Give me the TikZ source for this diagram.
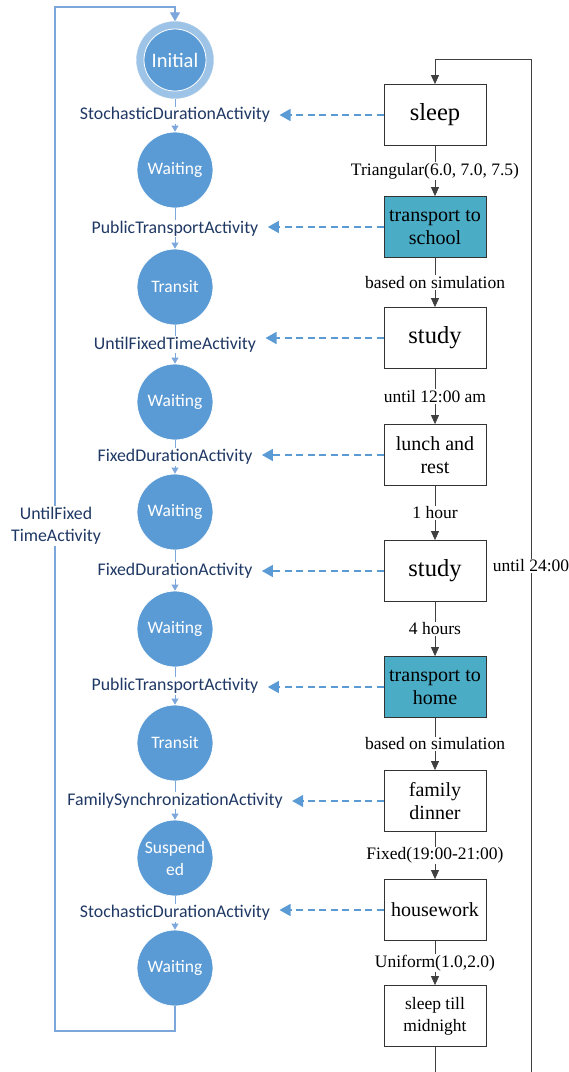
\documentclass[tikz,border=0pt]{standalone}
\usepackage{fontspec}
\setmainfont{Liberation Serif}
\newfontfamily\carl{Carlito}
\usetikzlibrary{arrows.meta}
\definecolor{cblue}{HTML}{5B9BD5}
\definecolor{cring}{HTML}{9DC3E6}
\definecolor{cnavy}{HTML}{1F3864}
\definecolor{cteal}{HTML}{4BACC6}
\definecolor{cline}{HTML}{7DA7DB}
\begin{document}
\begin{tikzpicture}[x=1pt,y=-1pt,
 state/.style={circle,fill=cblue,draw=white,line width=0.8pt,minimum size=76pt,inner sep=0pt,text=white,font=\carl\fontsize{17.5}{22}\selectfont,align=center},
 slbl/.style={fill=white,inner sep=1pt,text=cnavy,font=\carl\fontsize{17.8}{22}\selectfont,align=center},
 act/.style={draw=black!80,line width=0.8pt,minimum width=102pt,minimum height=61pt,inner sep=0pt,align=center,font=\fontsize{20}{23}\selectfont},
 big/.style={font=\fontsize{24.5}{28}\selectfont},
 elbl/.style={fill=white,inner sep=1pt,font=\fontsize{17.5}{20}\selectfont},
 flow/.style={draw=black!75,line width=0.8pt,-{Triangle[width=8pt,length=9pt]}},
 sflow/.style={draw=cline,line width=1pt,-{Triangle[width=7pt,length=6pt]}},
 loopl/.style={draw=cline,line width=1.2pt,-{Triangle[width=10pt,length=9pt]}},
 map/.style={draw=cblue,line width=1.5pt,dash pattern=on 7pt off 4.5pt,-{Triangle[width=12pt,length=11pt]},shorten >=8pt},
]
\useasboundingbox (0,0) rectangle (569,1072);
\clip (0,0) rectangle (569,1072);

% states (left column)
\node[circle,fill=cring,draw=cring!80,minimum size=77pt,inner sep=0pt] (init) at (175,60) {};
\node[state,minimum size=62pt,font=\carl\fontsize{20.5}{24}\selectfont] (initin) at (175,60) {Initial};
\node[state] (s1) at (175,170) {Waiting};
\node[state] (s2) at (175,287) {Transit};
\node[state] (s3) at (175,402) {Waiting};
\node[state] (s4) at (175,512) {Waiting};
\node[state] (s5) at (175,629) {Waiting};
\node[state] (s6) at (175,743) {Transit};
\node[state] (s7) at (175,858) {Suspend\\ed};
\node[state] (s8) at (175,968) {Waiting};

\draw[sflow] (init) -- node[slbl] (l1) {StochasticDurationActivity} (s1);
\draw[sflow] (s1) -- node[slbl] (l2) {PublicTransportActivity} (s2);
\draw[sflow] (s2) -- node[slbl] (l3) {UntilFixedTimeActivity} (s3);
\draw[sflow] (s3) -- node[slbl] (l4) {FixedDurationActivity} (s4);
\draw[sflow] (s4) -- node[slbl] (l5) {FixedDurationActivity} (s5);
\draw[sflow] (s5) -- node[slbl] (l6) {PublicTransportActivity} (s6);
\draw[sflow] (s6) -- node[slbl] (l7) {FamilySynchronizationActivity} (s7);
\draw[sflow] (s7) -- node[slbl] (l8) {StochasticDurationActivity} (s8);

% left loop
\coordinate (lb1) at (175,1031);
\coordinate (lb2) at (55,1031);
\coordinate (lt1) at (55,7);
\coordinate (lt2) at (175,7);
\draw[loopl] (s8) -- (lb1) -- (lb2) -- (lt1) -- (lt2) -- (init);
\node[slbl] (lloop) at (56,526) {UntilFixed\\TimeActivity};

% activities (right column)
\node[act,big] (a1) at (435,115) {sleep};
\node[act,fill=cteal] (a2) at (435,227) {transport to\\school};
\node[act,big] (a3) at (435,338) {study};
\node[act] (a4) at (435,455) {lunch and\\rest};
\node[act,big] (a5) at (435,571) {study};
\node[act,fill=cteal] (a6) at (435,687) {transport to\\home};
\node[act] (a7) at (435,801) {family\\dinner};
\node[act] (a8) at (435,910) {housework};
\node[act,font=\fontsize{17.5}{22}\selectfont] (a9) at (435,1016) {sleep till\\midnight};

\draw[flow] (a1) -- node[elbl] {Triangular(6.0, 7.0, 7.5)} (a2);
\draw[flow] (a2) -- node[elbl] {based on simulation} (a3);
\draw[flow] (a3) -- node[elbl] {until 12:00 am} (a4);
\draw[flow] (a4) -- node[elbl] {1 hour} (a5);
\draw[flow] (a5) -- node[elbl] {4 hours} (a6);
\draw[flow] (a6) -- node[elbl] {based on simulation} (a7);
\draw[flow] (a7) -- node[elbl] {Fixed(19:00-21:00)} (a8);
\draw[flow] (a8) -- node[elbl] {Uniform(1.0,2.0)} (a9);

% right loop
\coordinate (r1) at (435,1090);
\coordinate (r2) at (531,1090);
\coordinate (r3) at (531,59);
\coordinate (r4) at (435,59);
\draw[flow] (a9) -- (r1) -- (r2) -- (r3) -- (r4) -- (a1);
\node[elbl] (u24) at (531,566) {until 24:00};

% mappings
\draw[map] (a1.west) -- (l1.east |- a1.west);
\draw[map] (a2.west) -- (l2.east |- a2.west);
\draw[map] (a3.west) -- (l3.east |- a3.west);
\draw[map] (a4.west) -- (l4.east |- a4.west);
\draw[map] (a5.west) -- (l5.east |- a5.west);
\draw[map] (a6.west) -- (l6.east |- a6.west);
\draw[map] (a7.west) -- (l7.east |- a7.west);
\draw[map] (a8.west) -- (l8.east |- a8.west);
\end{tikzpicture}
\end{document}
